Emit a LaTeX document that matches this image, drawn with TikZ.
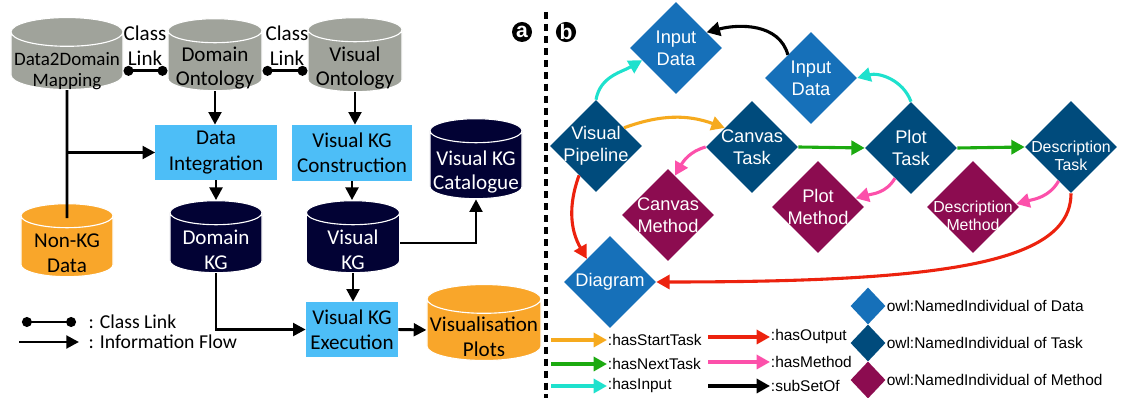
\documentclass[tikz,border=0pt]{standalone}
\usepackage{fontspec}
\setmainfont{Liberation Sans}
\newfontfamily\calibrifont{Carlito}
\usepackage{tikz}
\usetikzlibrary{shapes.geometric, %for cylinders and diamonds
                calc, %for offsets from anchors
                arrows.meta, % for arrow tips
                positioning}

\definecolor{ontogray}{RGB}{160,163,155}
\definecolor{procblue}{RGB}{77,190,247}
\definecolor{kgnavy}{RGB}{2,2,52}
\definecolor{dataorange}{RGB}{249,166,42}
\definecolor{dataind}{RGB}{22,112,185}
\definecolor{taskind}{RGB}{0,75,124}
\definecolor{methind}{RGB}{140,12,80}
\definecolor{cstart}{RGB}{246,170,30}
\definecolor{cnext}{RGB}{28,170,16}
\definecolor{cinput}{RGB}{30,225,205}
\definecolor{coutput}{RGB}{236,34,14}
\definecolor{cmethod}{RGB}{252,80,170}

\begin{document}
\begin{tikzpicture}[x=0.025cm, y=-0.025cm,
                    DB/.style={cylinder, shape border rotate=90, aspect=0.3, draw=white, line width=0.8pt,
                               inner sep=0pt, minimum width=2.35cm, minimum height=1.8cm},
                    dblabel/.style={align=center, inner sep=0pt, yshift=-5pt,
                                    font=\calibrifont\fontsize{15}{17.7}\selectfont},
                    dbtxt/.style={label={[dblabel]center:#1}},
                    dbtxtw/.style={label={[dblabel, text=white]center:#1}},
                    proc/.style={rectangle, fill=procblue, inner sep=0pt, align=center,
                                 font=\calibrifont\fontsize{15}{18}\selectfont, minimum height=1.375cm},
                    lefttxt/.style={align=center, inner sep=1pt, font=\calibrifont\fontsize{15}{17.7}\selectfont},
                    classlink/.style={{Circle[length=7pt]}-{Circle[length=7pt]}, line width=2.1pt},
                    flow/.style={-{Triangle[length=9pt,width=9pt]}, line width=2.1pt},
                    flowline/.style={line width=2.1pt},
                    IND/.style={diamond, minimum width=2.3cm, minimum height=2.3cm, inner sep=0pt},
                    indlabel/.style={text=white, align=center, inner sep=0pt, font=\fontsize{13}{15.5}\selectfont},
                    indtxt/.style={label={[indlabel]center:#1}},
                    indtxtsmall/.style={label={[indlabel, yshift=-6pt, font=\fontsize{11.3}{12.8}\selectfont]center:#1}},
                    rel/.style={line width=2.2pt, -{Triangle[length=9.5pt,width=10pt]}},
                    legtxt/.style={inner sep=0.5pt, font=\fontsize{11}{13}\selectfont},
                    circlabel/.style={circle, fill=black, text=white, inner sep=0pt, minimum size=0.5cm,
                                      font=\bfseries\fontsize{15}{15}\selectfont}
                    ]
    \useasboundingbox (0,0) rectangle (1121,398);

    % (a) ontologies and knowledge graphs
    \node[DB, fill=ontogray, minimum width=2.8cm,
          label={[dblabel, yshift=-2pt, font=\calibrifont\fontsize{13.5}{15}\selectfont]center:{Data2Domain\\Mapping}}] (d2d) at (67,61) {\hspace*{2.4cm}};
    \node[DB, fill=ontogray, dbtxt={Domain\\Ontology}] (dont) at (215,61) {\hspace*{2cm}};
    \node[DB, fill=ontogray, minimum height=1.85cm, dbtxt={Visual\\Ontology}] (vont) at (355,61) {\hspace*{2cm}};
    \node[lefttxt] (cl1) at (145,46) {Class\\Link};
    \node[lefttxt] (cl2) at (287,46) {Class\\Link};

    \node[proc, minimum width=3.025cm] (dint) at (216,152.5) {Data\\Integration};
    \node[proc, minimum width=3cm, minimum height=1.4cm] (vkgc) at (352,153) {Visual KG\\Construction};
    \node[DB, fill=kgnavy, minimum width=2.3cm, minimum height=2cm, dbtxtw={Visual KG\\Catalogue}] (vcat) at (476,165) {\hspace*{2cm}};

    \node[DB, fill=dataorange, minimum width=2.3cm, minimum height=1.825cm, dbtxt={Non-KG\\Data}] (nonkg) at (67,246.5) {\hspace*{2cm}};
    \node[DB, fill=kgnavy, minimum width=2.3cm, dbtxtw={Domain\\KG}] (dkg) at (216,243) {\hspace*{2cm}};
    \node[DB, fill=kgnavy, minimum width=2.33cm, dbtxtw={Visual\\KG}] (vkg) at (353,243) {\hspace*{2cm}};

    \node[proc, minimum width=2.3cm] (vexec) at (352,329.5) {Visual KG\\Execution};
    \node[DB, fill=dataorange, minimum width=2.85cm, minimum height=1.9cm, dbtxt={Visualisation\\Plots}] (plots) at (484,330) {\hspace*{2.4cm}};

    % class links
    \draw[classlink] ([yshift=-7pt]d2d.east) -- ([yshift=-7pt]dont.west);
    \draw[classlink] ([yshift=-7pt]dont.east) -- ([yshift=-7pt]vont.west);

    % information flow
    \draw[flow] (dont.south) -- (dont.south |- dint.north);
    \draw[flow] (vont.south) -- (vont.south |- vkgc.north);
    \draw[flowline] (d2d.south) -- ($(nonkg.north)+(0,15)$);
    \draw[flow] (d2d.south |- dint.west) -- (dint.west);
    \draw[flow] (dint.south) -- (dint.south |- dkg.north);
    \draw[flow] (vkgc.south) -- (vkgc.south |- vkg.north);
    \draw[flow] (vkg.east) -| (vcat.south);
    \draw[flow] (vkg.south) -- (vkg.south |- vexec.north);
    \draw[flow] (dkg.south) |- (vexec.west);
    \draw[flow] (vexec.east) -- (plots.west);

    % legend of (a)
    \node[lefttxt, anchor=west, font=\calibrifont\fontsize{14}{16}\selectfont] (lgclass) at (87,322) {: Class Link};
    \draw[classlink] ($(lgclass.west)+(-65,0)$) -- ($(lgclass.west)+(-11,0)$);
    \node[lefttxt, anchor=west, font=\calibrifont\fontsize{14}{16}\selectfont] (lgflow) at (87,342) {: Information Flow};
    \draw[flow] ($(lgflow.west)+(-68,0)$) -- ($(lgflow.west)+(-8,0)$);

    % divider
    \draw[line width=2.4pt, dash pattern=on 5pt off 3.5pt] (546,12) -- (546,398);
    \node[circlabel] (pa) at (522,32) {a};
    \node[circlabel] (pb) at (566,32) {b};

    % (b) individuals
    \node[IND, fill=dataind, indtxt={Input\\Data}] (id1) at (676,48) {};
    \node[IND, fill=dataind, indtxt={Input\\Data}] (id2) at (811,78) {};
    \node[IND, fill=taskind, indtxt={Visual\\Pipeline}] (vp) at (596,146) {};
    \node[IND, fill=taskind, indtxt={Canvas\\Task}] (ct) at (752,147) {};
    \node[IND, fill=taskind, indtxt={Plot\\Task}] (pt) at (911,148) {};
    \node[IND, fill=taskind, indtxtsmall={Description\\Task}] (dt) at (1071,147) {};
    \node[IND, fill=methind, indtxt={Canvas\\Method}] (cm) at (668,215) {};
    \node[IND, fill=methind, indtxt={Plot\\Method}] (pm) at (818,207) {};
    \node[IND, fill=methind, indtxtsmall={Description\\Method}] (dm) at (973,207) {};
    \node[IND, fill=dataind, indtxt={Diagram}] (dg) at (610,282) {};

    % relations
    \draw[rel, cinput] (vp.north) to[out=80, in=210] (id1.200);
    \draw[rel, cinput] (pt.north) to[out=110, in=15] (id2.east);
    \draw[rel] (id2.north west) to[out=105, in=15] (id1.27);
    \draw[rel, cstart] (vp.33) to[out=20, in=160] (ct.145);
    \draw[rel, cnext] (ct.east) -- (pt.west);
    \draw[rel, cnext] (pt.east) -- (dt.west);
    \draw[rel, cmethod] (ct.west) to[out=195, in=60] (cm.80);
    \draw[rel, cmethod] (pt.242) to[out=240, in=15] (pm.13);
    \draw[rel, cmethod] (dt.250) to[out=240, in=15] (dm.4);
    \draw[rel, coutput] (vp.240) to[out=-110, in=120] (dg.north west);
    \draw[rel, coutput] (dt.south) to[out=-90, in=0, out looseness=0.42, in looseness=1.75] (dg.east);

    % legend of (b)
    \node[legtxt, anchor=west] (lgstart) at (607,340) {:hasStartTask};
    \draw[rel, cstart] ($(lgstart.west)+(-56,0)$) -- (lgstart.west);
    \node[legtxt, anchor=west] (lgnext) at (607,364) {:hasNextTask};
    \draw[rel, cnext] ($(lgnext.west)+(-56,0)$) -- (lgnext.west);
    \node[legtxt, anchor=west] (lginput) at (607,386) {:hasInput};
    \draw[rel, cinput] ($(lginput.west)+(-56,0)$) -- (lginput.west);
    \node[legtxt, anchor=west] (lgout) at (770,337) {:hasOutput};
    \draw[rel, coutput] ($(lgout.west)+(-62,0)$) -- (lgout.west);
    \node[legtxt, anchor=west] (lgmeth) at (770,362) {:hasMethod};
    \draw[rel, cmethod] ($(lgmeth.west)+(-62,0)$) -- (lgmeth.west);
    \node[legtxt, anchor=west] (lgsub) at (770,386) {:subSetOf};
    \draw[rel] ($(lgsub.west)+(-62,0)$) -- (lgsub.west);

    \node[IND, fill=dataind, minimum width=0.875cm, minimum height=0.925cm] (lgdata) at (868,306) {};
    \node[legtxt, anchor=west] (lgdatatxt) at (lgdata.east) {owl:NamedIndividual of Data};
    \node[IND, fill=taskind, minimum width=0.875cm, minimum height=0.925cm] (lgtask) at (868,343) {};
    \node[legtxt, anchor=west] (lgtasktxt) at (lgtask.east) {owl:NamedIndividual of Task};
    \node[IND, fill=methind, minimum width=0.875cm, minimum height=0.925cm] (lgmethod) at (868,380) {};
    \node[legtxt, anchor=west] (lgmethodtxt) at (lgmethod.east) {owl:NamedIndividual of Method};
\end{tikzpicture}
\end{document}
